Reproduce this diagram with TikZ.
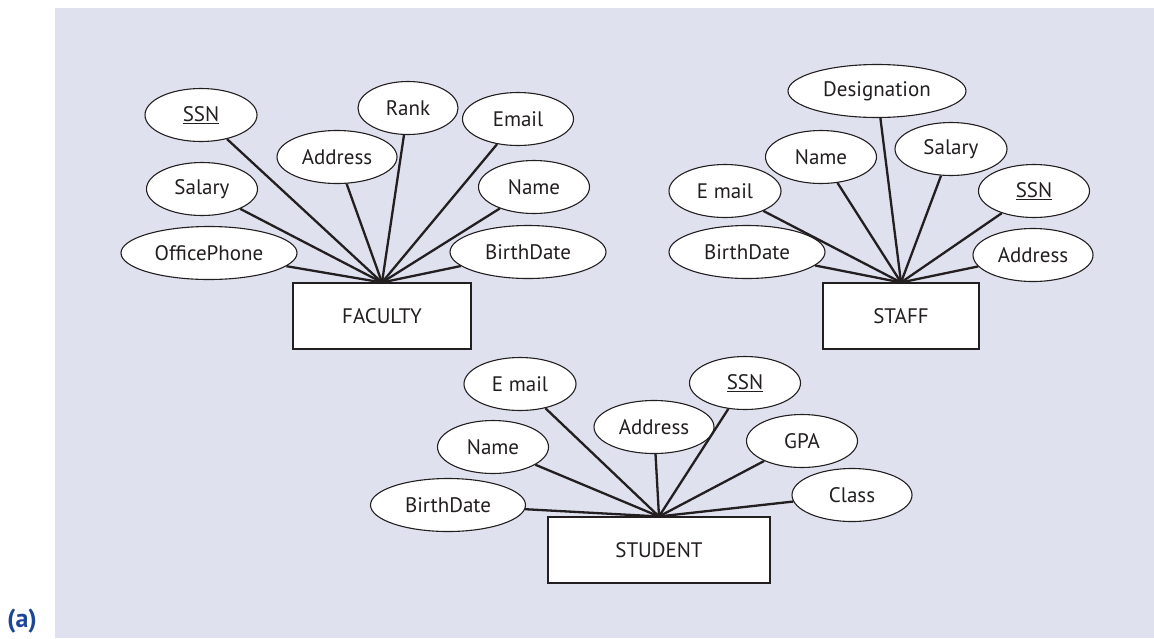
\documentclass[tikz,border=0pt]{standalone}
\usepackage{fontspec}
\setmainfont{PT Sans}
\usetikzlibrary{shapes.geometric}

\definecolor{erbg}{RGB}{223,225,239}
\definecolor{erink}{RGB}{35,31,32}
\definecolor{erblue}{RGB}{30,70,150}

\begin{document}
\begin{tikzpicture} [
    x=1pt, y=-1pt,
    attr/.style   = { ellipse, draw=erink, line width=1.1pt, fill=white,
                      inner sep=0pt, text=erink, minimum height=53pt,
                      font=\fontsize{21}{24}\selectfont },
    entity/.style = { rectangle, draw=erink, line width=1.1pt, fill=white,
                      inner sep=0pt, text=erink, minimum height=66pt,
                      font=\fontsize{21}{24}\selectfont },
    link/.style   = { draw=erink, line width=2.3pt },
  ]

\useasboundingbox (0,0) rectangle (1154,638);
\fill [erbg] (55,8) rectangle (1154,638);
\node [text=erblue, font=\fontsize{26}{30}\selectfont\bfseries, inner sep=1pt] (tag) at (22,621) {(a)};

% FACULTY
\node [entity, minimum width=178pt] (fac)    at (382,316) {FACULTY};
\node [attr, minimum width=112pt]   (fssn)   at (201,115) {\underline{SSN}};
\node [attr, minimum width=120pt]   (faddr)  at (337,157) {Address};
\node [attr, minimum width=111pt]   (fsal)   at (202,189) {Salary};
\node [attr, minimum width=176pt]   (fphone) at (209,253) {OfficePhone};
\node [attr, minimum width=100pt]   (frank)  at (408,108) {Rank};
\node [attr, minimum width=111pt]   (fmail)  at (518,119) {Email};
\node [attr, minimum width=111pt]   (fname)  at (534,187) {Name};
\node [attr, minimum width=156pt]   (fbirth) at (528,252) {BirthDate};

% STAFF
\node [entity, minimum width=156pt] (stf)    at (901,316) {STAFF};
\node [attr, minimum width=178pt]   (sdesig) at (877,91)  {Designation};
\node [attr, minimum width=111pt]   (sname)  at (821,157) {Name};
\node [attr, minimum width=112pt]   (ssal)   at (951,149) {Salary};
\node [attr, minimum width=111pt]   (sssn)   at (1034,191) {\underline{SSN}};
\node [attr, minimum width=120pt]   (saddr)  at (1033,255) {Address};
\node [attr, minimum width=112pt]   (smail)  at (725,191) {E mail};
\node [attr, minimum width=156pt]   (sbirth) at (747,252) {BirthDate};

% STUDENT
\node [entity, minimum width=222pt] (stu)    at (659,550) {STUDENT};
\node [attr, minimum width=112pt]   (umail)  at (520,384) {E mail};
\node [attr, minimum width=120pt]   (uaddr)  at (654,427) {Address};
\node [attr, minimum width=111pt]   (ussn)   at (745,383) {\underline{SSN}};
\node [attr, minimum width=111pt]   (uname)  at (493,447) {Name};
\node [attr, minimum width=155pt]   (ubirth) at (448,505) {BirthDate};
\node [attr, minimum width=111pt]   (ugpa)   at (802,441) {GPA};
\node [attr, minimum width=120pt]   (uclass) at (852,495) {Class};

\begin{scope} [every path/.style=link]
    \foreach \a in {fssn,faddr,fsal,fphone,frank,fmail,fname,fbirth}
        \path (\a) -- (fac.north);
    \foreach \a in {sdesig,sname,ssal,sssn,saddr,smail,sbirth}
        \path (\a) -- (stf.north);
    \foreach \a in {umail,uaddr,ussn,uname,ubirth,ugpa,uclass}
        \path (\a) -- (stu.north);
\end{scope}

\end{tikzpicture}
\end{document}
